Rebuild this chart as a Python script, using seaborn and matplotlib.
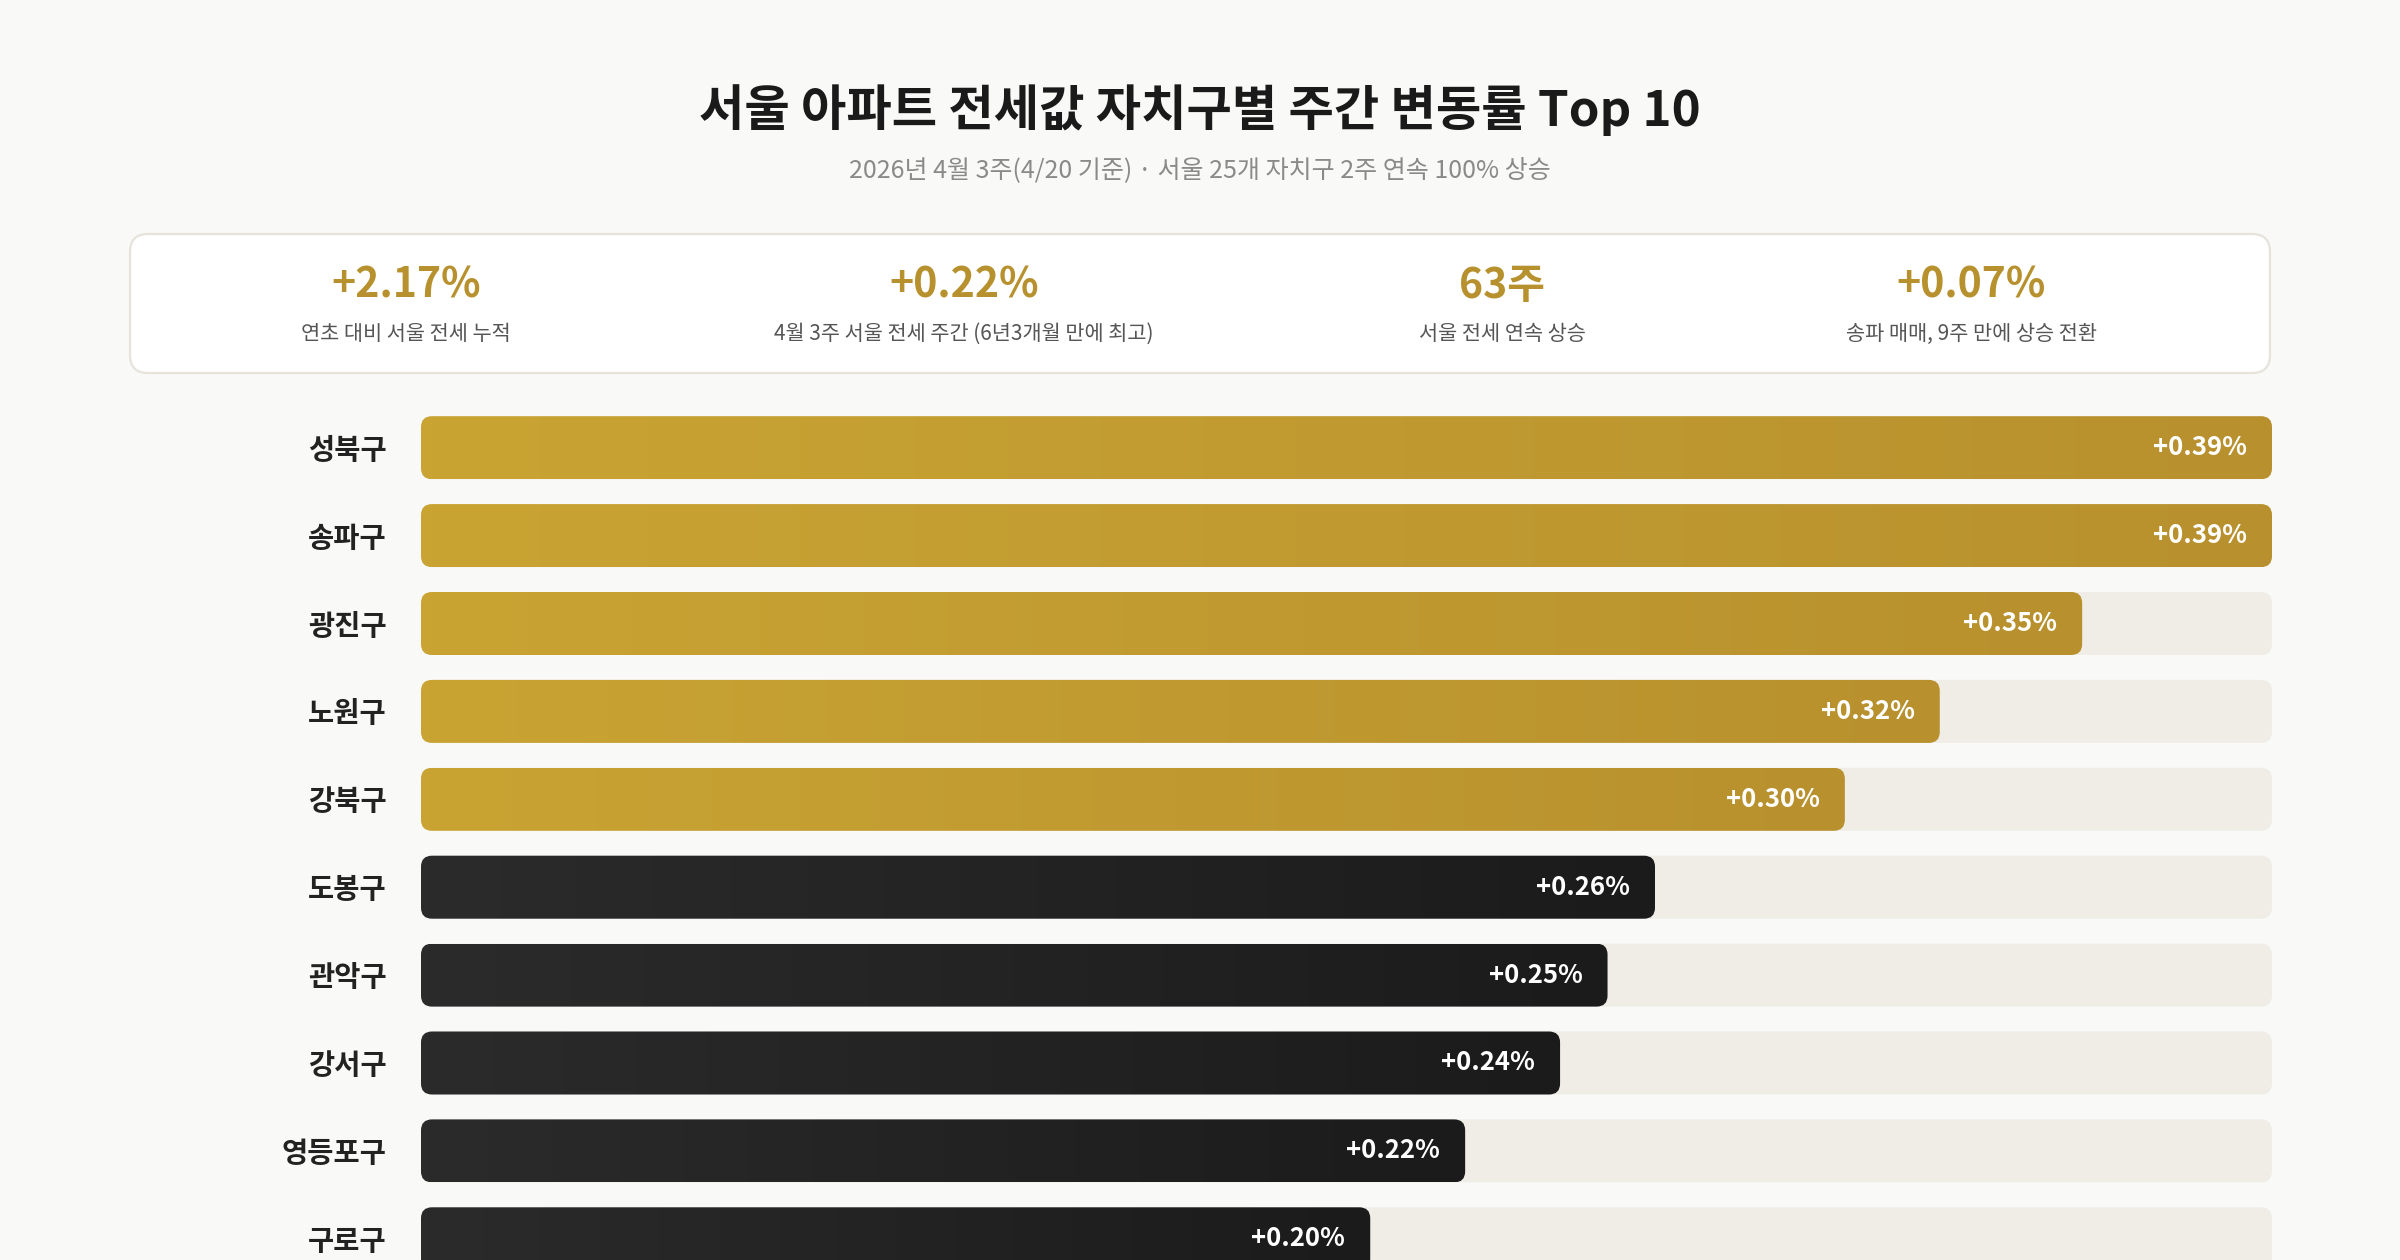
import matplotlib
matplotlib.use('Agg')
import matplotlib.pyplot as plt
import numpy as np
import pandas as pd
import seaborn as sns
from matplotlib.patches import FancyBboxPatch
from matplotlib.colors import LinearSegmentedColormap

# data
districts = ['성북구', '송파구', '광진구', '노원구', '강북구', '도봉구', '관악구', '강서구', '영등포구', '구로구']
weekly_change = [0.39, 0.39, 0.35, 0.32, 0.30, 0.26, 0.25, 0.24, 0.22, 0.20]
tier = ['top', 'top', 'top', 'top', 'top', 'rest', 'rest', 'rest', 'rest', 'rest']

kpi_values = ['+2.17%', '+0.22%', '63주', '+0.07%']
kpi_labels = ['연초 대비 서울 전세 누적', '4월 3주 서울 전세 주간 (6년3개월 만에 최고)',
              '서울 전세 연속 상승', '송파 매매, 9주 만에 상승 전환']

title = '서울 아파트 전세값 자치구별 주간 변동률 Top 10'
subtitle = '2026년 4월 3주(4/20 기준) · 서울 25개 자치구 2주 연속 100% 상승'

# style
BG = '#f9f9f7'
GOLD = '#b8912f'
TRACK = '#f0ede6'
gradients = {
    'top': LinearSegmentedColormap.from_list('gold', ['#c9a433', '#b8912e']),
    'rest': LinearSegmentedColormap.from_list('dark', ['#2b2b2b', '#1b1b1b']),
}

sns.set_theme(style='white')
plt.rcParams['font.family'] = ['Noto Sans CJK KR', 'DejaVu Sans']

W, H = 2400, 1260
fig = plt.figure(figsize=(W / 100, H / 100), dpi=100, facecolor=BG)

# background layer in pixel coordinates (title, subtitle, kpi card)
bg = fig.add_axes([0, 0, 1, 1], zorder=0)
bg.set_xlim(0, W)
bg.set_ylim(H, 0)
bg.axis('off')
bg.set_facecolor(BG)

bg.text(W / 2, 110, title, ha='center', va='center', fontsize=35.5, fontweight='bold', color='#1a1a1a')
bg.text(W / 2, 171, subtitle, ha='center', va='center', fontsize=18, color='#8a8a8a')

card = FancyBboxPatch((130, 234), 2140, 139, boxstyle='round,pad=0,rounding_size=18',
                      fc='white', ec='#e7e3db', lw=1.6)
bg.add_patch(card)
kpi_x = [406, 964, 1502, 1971]
for cx, val, lab in zip(kpi_x, kpi_values, kpi_labels):
    bg.text(cx, 286, val, ha='center', va='center', fontsize=29.5, fontweight='bold', color=GOLD)
    bg.text(cx, 334, lab, ha='center', va='center', fontsize=15, color='#555555')

# bar chart
bar_left, bar_right = 421, 2272
row0, pitch = 447.7, 87.9
top_px = row0 - pitch * 0.5
n_below = (H - row0) / pitch
ax = fig.add_axes([bar_left / W, 0, (bar_right - bar_left) / W, (H - top_px) / H], zorder=1)
ax.patch.set_alpha(0)

df = pd.DataFrame({'district': districts, 'change': weekly_change, 'tier': tier})
bar_h = 63 / pitch
sns.barplot(data=df, x='change', y='district', orient='h', ax=ax, width=bar_h, color='#cccccc')

xmax = max(weekly_change)
ax.set_xlim(0, xmax)
ax.set_ylim(n_below, -0.5)

px_per_x = (bar_right - bar_left) / xmax
px_per_y = pitch
radius = 11
rsize = radius / px_per_x
m_aspect = px_per_x / px_per_y

grad = np.linspace(0, 1, 256).reshape(1, -1)
for bar, row in zip(list(ax.patches), df.itertuples()):
    x0, y0 = bar.get_x(), bar.get_y()
    w, h = bar.get_width(), bar.get_height()
    bar.set_visible(False)
    track = FancyBboxPatch((0, y0), xmax, h, boxstyle=f'round,pad=0,rounding_size={rsize}',
                           mutation_aspect=m_aspect, fc=TRACK, ec='none', zorder=1)
    ax.add_patch(track)
    shape = FancyBboxPatch((x0, y0), w, h, boxstyle=f'round,pad=0,rounding_size={rsize}',
                           mutation_aspect=m_aspect, fc='none', ec='none', zorder=2)
    ax.add_patch(shape)
    im = ax.imshow(grad, cmap=gradients[row.tier], extent=(x0, x0 + w, y0 + h, y0),
                   aspect='auto', zorder=2, interpolation='bilinear')
    im.set_clip_path(shape)
    ax.annotate(f'+{row.change:.2f}%', xy=(row.change, y0 + h / 2), xytext=(-18, 0),
                textcoords='offset points', ha='right', va='center', color='white',
                fontsize=18.5, fontweight='bold', zorder=3)

ax.set_xlim(0, xmax)
ax.set_ylim(n_below, -0.5)
ax.set_xlabel('')
ax.set_ylabel('')
ax.set_xticks([])
ax.tick_params(axis='y', length=0, pad=24.5)
for lbl in ax.get_yticklabels():
    lbl.set_fontsize(20.5)
    lbl.set_fontweight('bold')
    lbl.set_color('#222222')
sns.despine(ax=ax, left=True, bottom=True)

fig.savefig('out.png', dpi=100, facecolor=BG)
